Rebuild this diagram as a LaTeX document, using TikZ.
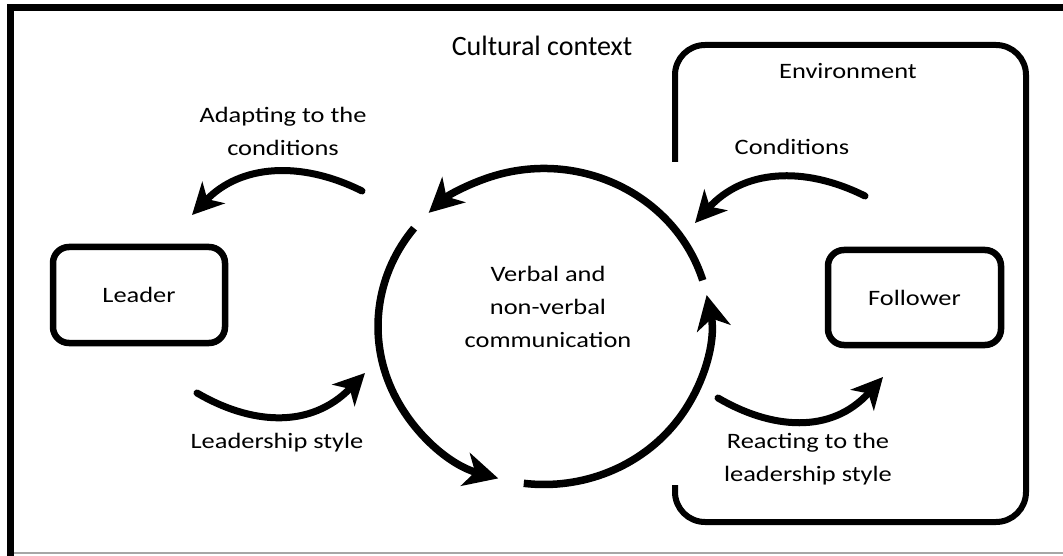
\documentclass[tikz,border=0pt]{standalone}
\usepackage{fontspec}
\setmainfont{Carlito}
\newfontfamily\widefont[FakeStretch=1.2]{Carlito}
\usetikzlibrary{arrows.meta}
\begin{document}
\begin{tikzpicture}[x=1pt,y=-1pt,
  lbl/.style={font=\widefont\fontsize{22}{33}\selectfont, align=center, inner sep=0pt},
  agent/.style={draw, line width=6.5pt, rounded corners=16pt, font=\widefont\fontsize{22}{26}\selectfont},
  flow/.style={line width=7pt, line cap=round, -{Stealth[length=31pt,width=31pt,inset=9pt]}},
  cycle/.style={line width=7.5pt, -{Stealth[length=34pt,width=34pt,inset=10pt]}}
]
\useasboundingbox (0,0) rectangle (1063,556);
\fill[white] (0,0) rectangle (1063,556);
% frame
\draw[line width=7pt] (10.5,556) -- (10.5,8) -- (1063,8);
\draw[line width=1.2pt, black!35] (14,553) -- (1063,553);

% environment bracket
\draw[line width=6pt, rounded corners=30pt] (675,162) -- (675,45) -- (1026,45) -- (1026,522) -- (675,522) -- (675,485);

% labels
\node[lbl, font=\fontsize{28}{33}\selectfont] (cult) at (542,46) {Cultural context};
\node[lbl] (env) at (848,71) {Environment};
\node[lbl] (cond) at (792,147) {Conditions};
\node[lbl] (adapt) at (283,131) {Adapting to the\\conditions};
\node[lbl] (lstyle) at (277,443) {Leadership style};
\node[lbl] (react) at (808,459) {Reacting to the\\leadership style};
\node[lbl] (comm) at (548,307) {Verbal and\\non-verbal\\communication};

% agents
\node[agent, minimum width=172pt, minimum height=96pt] (leader) at (139,295) {Leader};
\node[agent, minimum width=173pt, minimum height=95pt] (follower) at (914.5,297.5) {Follower};

% communication cycle
\coordinate (c) at (544,326.5);
\draw[cycle] ([shift={(-17:166 and 158)}]c) arc[start angle=-17, end angle=-134, x radius=166, y radius=158];
\draw[cycle] ([shift={(-141.5:166 and 158)}]c) arc[start angle=-141.5, end angle=-254, x radius=166, y radius=158];
\draw[cycle] ([shift={(97:166 and 158)}]c) arc[start angle=97, end angle=-11.5, x radius=166, y radius=158];

% influences
\coordinate (a1) at (362,191); \coordinate (a2) at (192,215);
\draw[flow] (a1) .. controls (300,160) and (240,165) .. (a2);
\coordinate (b1) at (865,196); \coordinate (b2) at (695,223);
\draw[flow] (b1) .. controls (803,165) and (743,170) .. (b2);
\coordinate (s1) at (197,393); \coordinate (s2) at (365,373);
\draw[flow] (s1) .. controls (250,424) and (310,430) .. (s2);
\coordinate (r1) at (718,398); \coordinate (r2) at (883,377);
\draw[flow] (r1) .. controls (771,429) and (831,435) .. (r2);
\end{tikzpicture}
\end{document}
